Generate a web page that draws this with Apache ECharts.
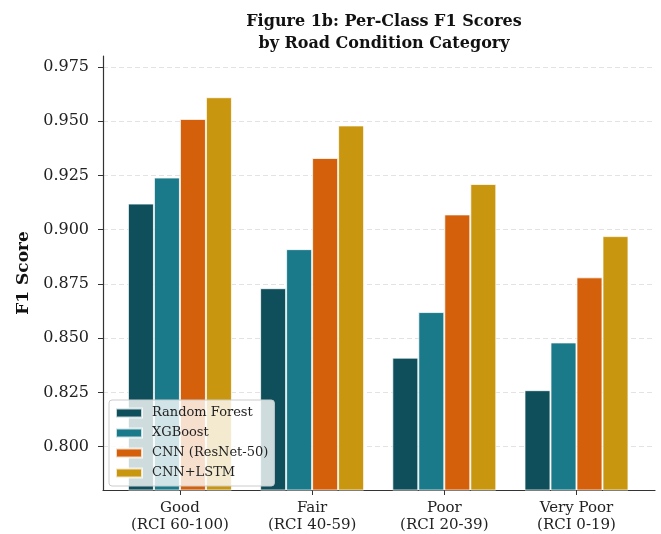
<!DOCTYPE html>
<html>
<head>
<meta charset="utf-8">
<script src="https://cdn.jsdelivr.net/npm/echarts@6/dist/echarts.min.js"></script>
<style>
  html, body { margin: 0; padding: 0; background: #ffffff; }
  #chart { width: 661px; height: 534px; }
</style>
</head>
<body>
<div id="chart"></div>
<script>
// Road condition categories (two-line axis labels)
const categories = ['Good\n(RCI 60-100)', 'Fair\n(RCI 40-59)', 'Poor\n(RCI 20-39)', 'Very Poor\n(RCI 0-19)'];

// Per-class F1 scores for each model
const modelNames = ['Random Forest', 'XGBoost', 'CNN (ResNet-50)', 'CNN+LSTM'];
const randomForest = [0.912, 0.873, 0.841, 0.826];
const xgboost      = [0.924, 0.891, 0.862, 0.848];
const cnnResnet    = [0.951, 0.933, 0.907, 0.878];
const cnnLstm      = [0.961, 0.948, 0.921, 0.897];

// Y-axis tick values
const yTicks = [0.800, 0.825, 0.850, 0.875, 0.900, 0.925, 0.950, 0.975];

const modelColors = ['#0f4f5c', '#1b7a8a', '#d4600b', '#c8960f'];
const seriesValues = [randomForest, xgboost, cnnResnet, cnnLstm];

const serif = '"DejaVu Serif", "Liberation Serif", serif';

const chart = echarts.init(document.getElementById('chart'), null, { renderer: 'canvas' });

const series = seriesValues.map((vals, s) => ({
  name: modelNames[s],
  type: 'bar',
  barWidth: 26,
  barGap: '0%',
  itemStyle: {
    color: modelColors[s],
    borderColor: 'rgba(255,255,255,0.75)',
    borderWidth: 1
  },
  data: vals.map((v, i) => [i, v])
}));

chart.setOption({
  animation: false,
  backgroundColor: '#ffffff',
  title: {
    text: 'Figure 1b: Per-Class F1 Scores\nby Road Condition Category',
    left: 379,
    top: 6,
    textAlign: 'center',
    textStyle: {
      fontFamily: serif,
      fontWeight: 'bold',
      fontSize: 16,
      lineHeight: 22,
      color: '#111111'
    }
  },
  legend: {
    orient: 'vertical',
    left: 109,
    top: 400,
    itemWidth: 26,
    itemHeight: 9,
    itemGap: 6,
    padding: [6, 6, 6, 6],
    backgroundColor: 'rgba(255,255,255,0.8)',
    borderColor: '#cccccc',
    borderWidth: 1,
    borderRadius: 3,
    icon: 'rect',
    textStyle: {
      fontFamily: serif,
      fontSize: 13,
      color: '#222222',
      lineHeight: 14,
      padding: [0, 0, 0, 5]
    },
    data: modelNames
  },
  grid: {
    left: 103,
    right: 6,
    top: 56,
    bottom: 41
  },
  xAxis: {
    type: 'value',
    min: -0.582,
    max: 3.594,
    axisLine: { show: true, onZero: false, lineStyle: { color: '#333333', width: 1.2 } },
    axisTick: { show: true, length: 5, customValues: [0, 1, 2, 3], lineStyle: { color: '#333333' } },
    axisLabel: {
      customValues: [0, 1, 2, 3],
      formatter: v => categories[Math.round(v)],
      fontFamily: serif,
      fontSize: 15,
      lineHeight: 17,
      color: '#222222',
      margin: 10
    },
    splitLine: { show: false }
  },
  yAxis: {
    type: 'value',
    min: 0.78,
    max: 0.98,
    name: 'F1 Score',
    nameLocation: 'middle',
    nameGap: 70,
    nameTextStyle: {
      fontFamily: serif,
      fontWeight: 'bold',
      fontSize: 17,
      color: '#111111'
    },
    axisLine: { show: true, onZero: false, lineStyle: { color: '#333333', width: 1.2 } },
    axisTick: { show: true, length: 5, customValues: yTicks, lineStyle: { color: '#333333' } },
    axisLabel: {
      customValues: yTicks,
      formatter: v => v.toFixed(3),
      fontFamily: serif,
      fontSize: 16,
      color: '#222222',
      margin: 14
    },
    splitLine: {
      show: true,
      lineStyle: { color: '#e3e3e3', type: [5, 3], width: 1 }
    }
  },
  series: series
});
</script>
</body>
</html>
